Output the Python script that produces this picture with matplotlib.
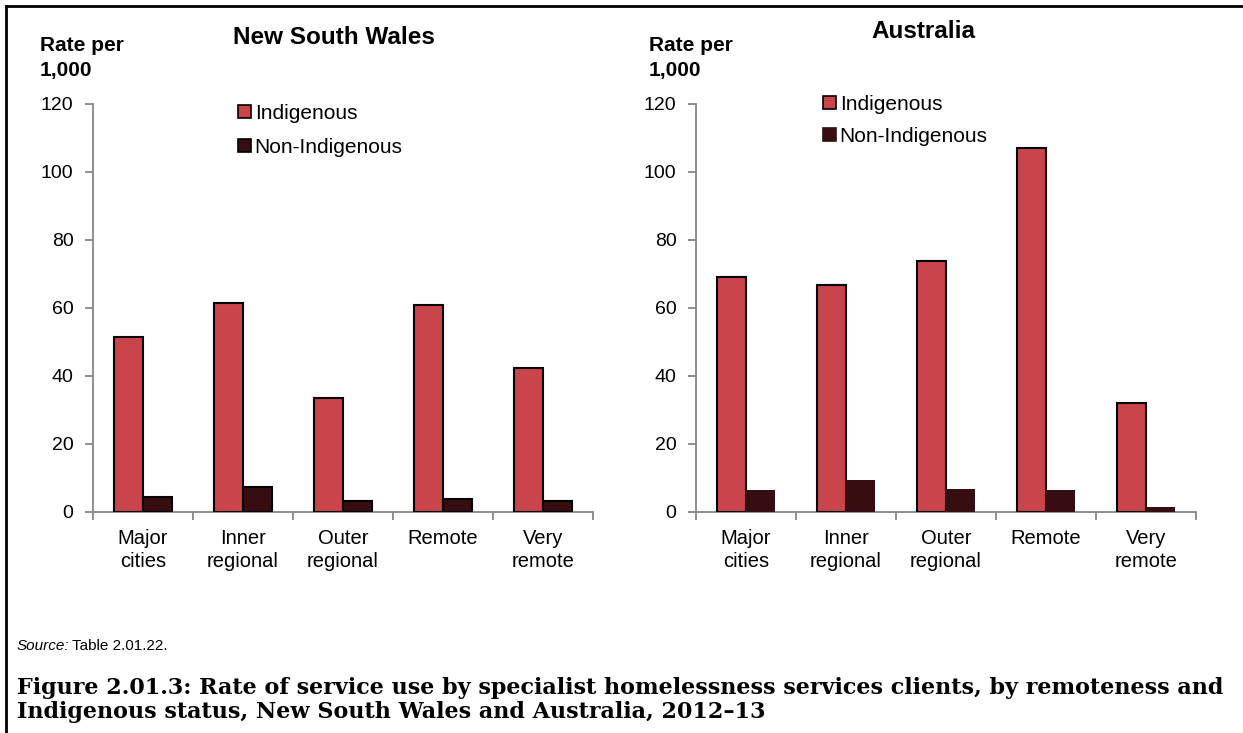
import matplotlib.pyplot as plt
from matplotlib.patches import Patch
from matplotlib.lines import Line2D

categories = ["Major\ncities", "Inner\nregional", "Outer\nregional", "Remote", "Very\nremote"]
nsw_indig = [51.6, 61.6, 33.6, 61.0, 42.3]
nsw_non = [4.3, 7.3, 3.3, 3.8, 3.1]
aus_indig = [69.1, 66.7, 73.8, 107.2, 32.1]
aus_non = [6.5, 9.3, 6.9, 6.4, 1.6]
yticks = [0, 20, 40, 60, 80, 100, 120]

red = "#C9454B"
dark = "#360E12"
grey = "#868686"
font = "Liberation Sans"

plt.rcParams["font.family"] = font

fig = plt.figure(figsize=(12.43, 7.33), dpi=100)
W, H = 1243, 733


def draw(left, indig, non, non_edge, title, title_xy, rate_x, leg_xy, leg_space):
    ax = fig.add_axes([left / W, 1 - 512 / H, 500 / W, 408 / H])
    x = list(range(len(categories)))
    bw = 0.29
    ax.bar([i - bw / 2 for i in x], indig, bw, color=red, edgecolor="black", linewidth=1.5, zorder=3)
    if non_edge:
        ax.bar([i + bw / 2 for i in x], non, bw, color=dark, edgecolor="black", linewidth=1.5, zorder=3)
    else:
        ax.bar([i + bw / 2 for i in x], non, bw, color=dark, linewidth=0, zorder=3)
    ax.set_xlim(-0.5, len(categories) - 0.5)
    ax.set_ylim(0, 120)
    ax.set_yticks(yticks)
    ax.set_xticks([i - 0.5 for i in range(len(categories) + 1)])
    ax.set_xticklabels([])
    ax.set_xticks(x, minor=True)
    ax.set_xticklabels(categories, minor=True, fontsize=14.5, linespacing=1.3)
    ax.tick_params(axis="x", which="major", length=6, color=grey, width=1.3, direction="out")
    ax.tick_params(axis="x", which="minor", length=0, pad=12)
    ax.tick_params(axis="y", length=6, color=grey, width=1.3, labelsize=14, pad=8)
    for s in ["top", "right"]:
        ax.spines[s].set_visible(False)
    for s in ["left", "bottom"]:
        ax.spines[s].set_color(grey)
        ax.spines[s].set_linewidth(1.3)
    handles = [
        Patch(facecolor=red, edgecolor="black", linewidth=1.2, label="Indigenous"),
        Patch(facecolor=dark, edgecolor="black" if non_edge else dark, linewidth=1.2, label="Non-Indigenous"),
    ]
    ax.legend(handles=handles, loc="upper left", bbox_to_anchor=leg_xy, frameon=False,
              fontsize=15, handlelength=0.6, handleheight=0.6, handletextpad=0.2,
              labelspacing=leg_space, borderaxespad=0, borderpad=0)
    fig.text(title_xy[0] / W, 1 - title_xy[1] / H, title, fontsize=17.5, fontweight="bold",
             ha="center", va="center")
    fig.text(rate_x / W, 1 - 58 / H, "Rate per\n1,000", fontsize=15, fontweight="bold",
             ha="left", va="center", linespacing=1.35)
    return ax


draw(93, nsw_indig, nsw_non, True, "New South Wales", (334, 37), 40, ((238 - 93) / 500, (512 - 104) / 408), 0.7)
draw(696, aus_indig, aus_non, False, "Australia", (923, 32), 649, ((823 - 696) / 500, (512 - 95) / 408), 0.62)

# frame around the figure
fig.add_artist(Line2D([6 / W, 1], [1 - 6 / H, 1 - 6 / H], color="black", linewidth=2))
fig.add_artist(Line2D([6 / W, 6 / W], [0, 1 - 6 / H], color="black", linewidth=2))

fig.text(17 / W, 1 - 646 / H, "Source:", fontsize=11, style="italic", ha="left", va="center")
fig.text(72 / W, 1 - 646 / H, "Table 2.01.22.", fontsize=11, ha="left", va="center")
fig.text(17 / W, 1 - 700 / H,
         "Figure 2.01.3: Rate of service use by specialist homelessness services clients, by remoteness and\n"
         "Indigenous status, New South Wales and Australia, 2012\u201313",
         fontsize=16, fontweight="bold", family="DejaVu Serif", ha="left", va="center", linespacing=1.1)

fig.savefig("out.png", dpi=100)
